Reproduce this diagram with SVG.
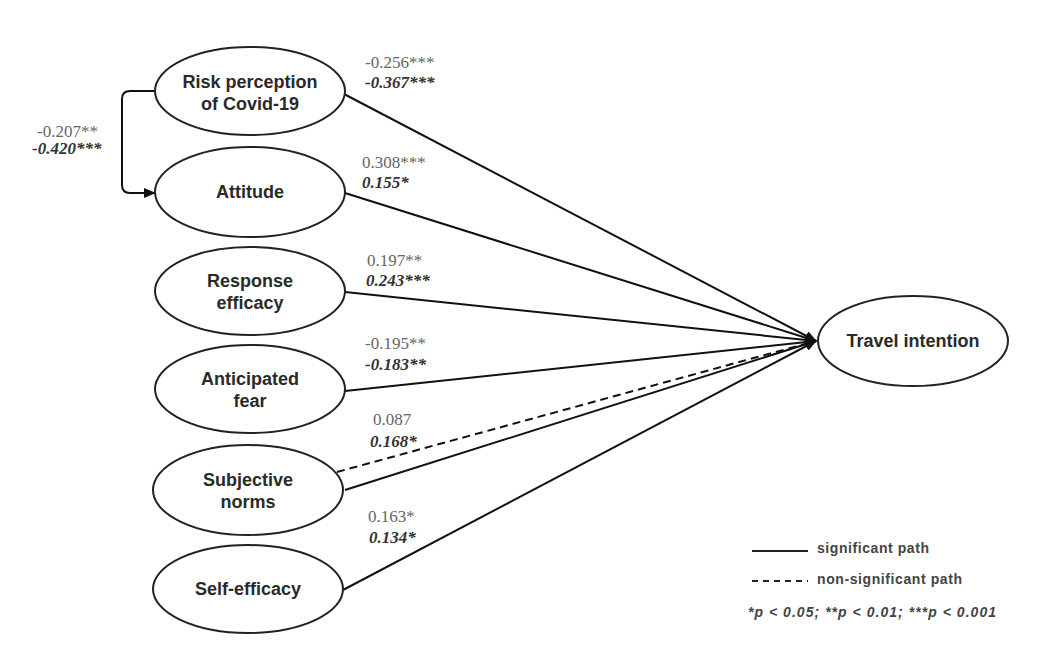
<svg xmlns="http://www.w3.org/2000/svg" width="1046" height="666" viewBox="0 0 1046 666">
<style>
.node ellipse{fill:#fff;stroke:#222;stroke-width:2}
.nt{font-family:"Liberation Sans",Arial,sans-serif;font-weight:bold;font-size:18px;fill:#2a2a2a;text-anchor:middle}
.c{stroke:#111;stroke-width:2;fill:none}
.v{font-family:"Liberation Serif","Times New Roman",serif;font-size:17px;fill:#666}
.b{font-family:"Liberation Serif","Times New Roman",serif;font-size:17px;font-weight:bold;font-style:italic;fill:#333}
.lg{font-family:"Liberation Sans",Arial,sans-serif;font-weight:bold;font-size:14px;fill:#444}
</style>
<defs>
<marker id="ah" markerWidth="12" markerHeight="10" refX="11" refY="5" orient="auto" markerUnits="userSpaceOnUse">
<path d="M0,0 L12,5 L0,10 z" fill="#111"/>
</marker>
</defs>
<rect width="1046" height="666" fill="#fff"/>
<g id="connectors">
<path class="c" d="M155,91 H130 Q122,91 122,99 V185 Q122,193 130,193 H155" marker-end="url(#ah)"/>
<line class="c" x1="344" y1="94" x2="816" y2="341" marker-end="url(#ah)"/>
<line class="c" x1="345" y1="193" x2="816" y2="341" marker-end="url(#ah)"/>
<line class="c" x1="345" y1="292" x2="816" y2="341" marker-end="url(#ah)"/>
<line class="c" x1="345" y1="391" x2="816" y2="341" marker-end="url(#ah)"/>
<line class="c" x1="337" y1="472" x2="816" y2="341" stroke-dasharray="8,5"/>
<line class="c" x1="345" y1="490" x2="816" y2="341" marker-end="url(#ah)"/>
<line class="c" x1="343" y1="590" x2="816" y2="341" marker-end="url(#ah)"/>
</g>
<g id="labels">
<text class="v" x="365" y="68">-0.256***</text>
<text class="b" x="365" y="88">-0.367***</text>
<text class="v" x="37" y="137">-0.207**</text>
<text class="b" x="32" y="154">-0.420***</text>
<text class="v" x="362" y="168">0.308***</text>
<text class="b" x="362" y="188">0.155*</text>
<text class="v" x="367" y="266">0.197**</text>
<text class="b" x="366" y="286">0.243***</text>
<text class="v" x="365" y="349">-0.195**</text>
<text class="b" x="365" y="370">-0.183**</text>
<text class="v" x="373" y="425">0.087</text>
<text class="b" x="370" y="447">0.168*</text>
<text class="v" x="368" y="522">0.163*</text>
<text class="b" x="369" y="543">0.134*</text>
</g>
<g id="n-risk" class="node"><ellipse cx="250" cy="91" rx="95" ry="44"/><text class="nt" x="250" y="88">Risk perception</text><text class="nt" x="250" y="110">of Covid-19</text></g>
<g id="n-attitude" class="node"><ellipse cx="250" cy="192" rx="95" ry="45"/><text class="nt" x="250" y="198">Attitude</text></g>
<g id="n-response" class="node"><ellipse cx="250" cy="291" rx="95" ry="44"/><text class="nt" x="250" y="287">Response</text><text class="nt" x="250" y="309">efficacy</text></g>
<g id="n-fear" class="node"><ellipse cx="250" cy="389" rx="95" ry="44"/><text class="nt" x="250" y="385">Anticipated</text><text class="nt" x="250" y="407">fear</text></g>
<g id="n-norms" class="node"><ellipse cx="248" cy="490" rx="95" ry="45"/><text class="nt" x="248" y="486">Subjective</text><text class="nt" x="248" y="508">norms</text></g>
<g id="n-self" class="node"><ellipse cx="248" cy="589" rx="95" ry="44"/><text class="nt" x="248" y="595">Self-efficacy</text></g>
<g id="n-travel" class="node"><ellipse cx="913" cy="341" rx="95" ry="45"/><text class="nt" x="913" y="347">Travel intention</text></g>
<g id="legend">
<line x1="752" y1="551" x2="808" y2="551" stroke="#222" stroke-width="2"/>
<text class="lg" x="817" y="553" textLength="112" lengthAdjust="spacing">significant path</text>
<line x1="752" y1="581" x2="808" y2="581" stroke="#222" stroke-width="2" stroke-dasharray="6,5"/>
<text class="lg" x="817" y="584" textLength="145" lengthAdjust="spacing">non-significant path</text>
<text class="lg" x="748" y="617" font-style="italic" textLength="248" lengthAdjust="spacing">*p &lt; 0.05; **p &lt; 0.01; ***p &lt; 0.001</text>
</g>
</svg>
